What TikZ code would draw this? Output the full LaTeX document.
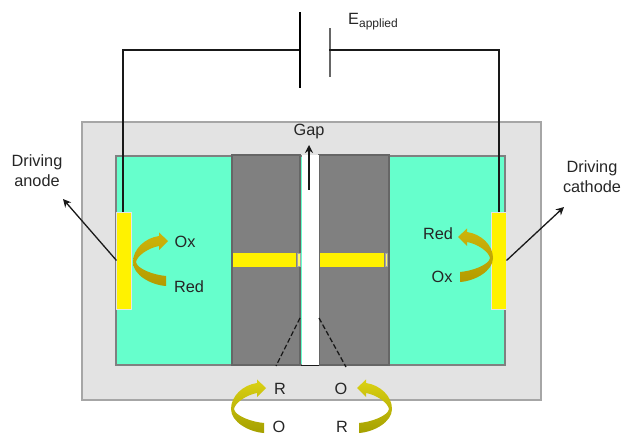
\documentclass[tikz,border=0pt]{standalone}
\usepackage{fontspec}
\setmainfont{Liberation Sans}
\usetikzlibrary{arrows.meta}
\definecolor{bathgreen}{HTML}{66FFCC}
\definecolor{goldtop}{HTML}{CDB40A}
\definecolor{goldbottom}{HTML}{B49B00}
\definecolor{olivetop}{HTML}{DCD214}
\definecolor{olivebottom}{HTML}{A5A000}
\tikzset{
    box/.style={draw=#1, inner sep=0pt, outer sep=0pt, line width=1.4pt},
    electrode/.style={fill=yellow, draw=black!10, inner sep=0pt, outer sep=0pt, line width=0.8pt, minimum width=15pt, minimum height=97pt},
    strip/.style={fill=yellow, inner sep=0pt, outer sep=0pt, minimum height=14pt},
    sliver/.style={fill=yellow!60!white, draw=black!35, inner sep=0pt, outer sep=0pt, line width=0.3pt, minimum width=2.5pt, minimum height=13pt},
    plate/.style={fill=#1, inner sep=0pt, outer sep=0pt, minimum width=2pt},
    wire/.style={draw=black!90, line width=1.3pt},
    pointer/.style={draw=black!90, line width=1.3pt, -{Stealth[length=8pt,width=8pt]}},
    label/.style={font=\fontsize{16.3}{20}\selectfont, text=black!85, inner sep=0pt, align=center},
    olive/.style={top color=olivetop, bottom color=olivebottom},
    golden/.style={top color=goldtop, bottom color=goldbottom},
    redox/.pic={
        \shade[pic actions] (0,0) -- (-9,-8.5) -- (-9,-5) .. controls (-23,-3) and (-35,8) .. (-35,21)
            .. controls (-35,34) and (-17,44) .. (-2,45) -- (-2,35) .. controls (-14,34) and (-31,28) .. (-32,21)
            .. controls (-31,15) and (-20,7) .. (-9,5) -- (-9,9) -- cycle;
    }
}
\begin{document}
\begin{tikzpicture}[x=1pt, y=-1pt]
    \useasboundingbox (0,0) rectangle (621,435);
    \node[box=black!35, fill=black!11, minimum width=459pt, minimum height=278pt] (casing) at (311.5,261) {};
    \node[box=black!50, fill=bathgreen, minimum width=389pt, minimum height=209pt] (bath) at (310.5,260.5) {};
    \node[box=black!60, fill=black!50, minimum width=68pt, minimum height=210pt] (blockleft) at (266,260) {};
    \node[box=black!60, fill=black!50, minimum width=70pt, minimum height=210pt] (blockright) at (354,260) {};
    \node[fill=white, inner sep=0pt, minimum width=17pt, minimum height=210pt] (gapslot) at (310,260) {};
    \draw[wire] (gapslot.south west) -- (gapslot.south east);

    \node[strip, minimum width=63pt] (stripleft) at (264.5,260) {};
    \node[sliver] (sliverleft) at (298.5,260) {};
    \node[strip, minimum width=64pt] (stripright) at (352,260) {};
    \node[sliver] (sliverright) at (386,260) {};

    \node[electrode] (anode) at (124,260.5) {};
    \node[electrode] (cathode) at (499,260.5) {};

    \node[plate=black, minimum height=76pt] (plateleft) at (300,50) {};
    \node[plate=black!60, minimum height=49pt] (plateright) at (330,52.5) {};
    \draw[wire] ([xshift=-1pt]anode.north) |- (plateleft);
    \draw[wire] (cathode.north) |- (plateright.west |- plateleft);

    \node[label] (eapplied) at (373,22) {E\raisebox{-3pt}{\fontsize{12}{12}\selectfont applied}};
    \node[label] (gaplabel) at (309,132) {Gap};
    \node[label] (anodelabel) at (37,171) {Driving\\anode};
    \node[label] (cathodelabel) at (592,177) {Driving\\cathode};

    \coordinate (gapfoot) at (309,190);
    \coordinate (gaptip) at (309,145);
    \coordinate (anodetip) at (63,199);
    \coordinate (cathodetip) at (564,207);
    \draw[pointer] (gapfoot) -- (gaptip);
    \draw[pointer] (anode.west) -- (anodetip);
    \draw[pointer] (cathode.east) -- (cathodetip);

    \coordinate (funnelleft) at (300,318);
    \coordinate (funnelright) at (319,318);
    \coordinate (mouthleft) at (276,366);
    \coordinate (mouthright) at (346,367);
    \draw[wire, dash pattern=on 5pt off 2.5pt] (funnelleft) -- (mouthleft);
    \draw[wire, dash pattern=on 5pt off 2.5pt] (funnelright) -- (mouthright);

    \pic[golden] at (168,241) {redox};
    \pic[golden, xscale=-1] at (458,237) {redox};
    \pic[olive] at (266,388) {redox};
    \pic[olive, xscale=-1] at (357,388) {redox};

    \node[label] (oxleft) at (185,242) {Ox};
    \node[label] (redleft) at (189,287) {Red};
    \node[label] (redright) at (438,234) {Red};
    \node[label] (oxright) at (442,277) {Ox};
    \node[label] (rtopleft) at (280,389) {R};
    \node[label] (otopright) at (341,389) {O};
    \node[label] (obottomleft) at (279,427) {O};
    \node[label] (rbottomright) at (342,427) {R};
\end{tikzpicture}
\end{document}
